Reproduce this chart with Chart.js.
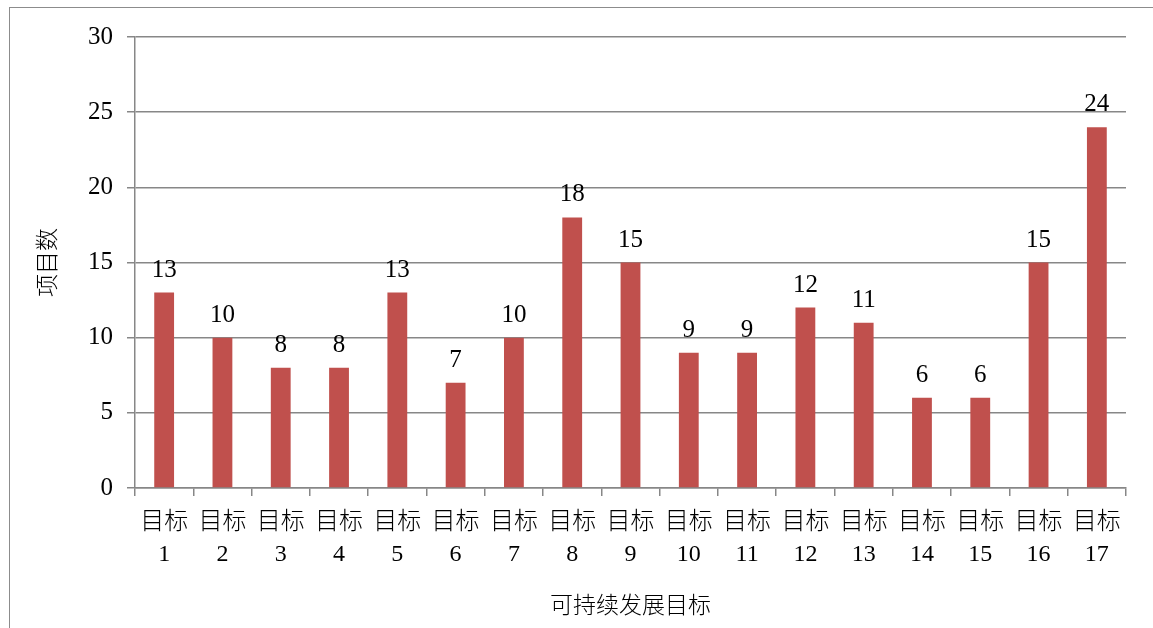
<!DOCTYPE html>
<html>
<head>
<meta charset="utf-8">
<script src="https://cdn.jsdelivr.net/npm/chart.js@4"></script>
<style>
  html, body { margin: 0; padding: 0; background: #fff; }
  .wrapper { position: relative; width: 1153px; height: 628px; overflow: hidden; }
  .frame { position: absolute; left: 9px; top: 7px; width: 1200px; height: 700px; border: 1px solid #8c8c8c; }
  canvas { position: absolute; left: 0; top: 0; }
</style>
</head>
<body>
<div class="wrapper">
  <div class="frame"></div>
  <canvas id="goalChart" width="1153" height="628"></canvas>
</div>
<script>
// Data
var goals = ["1", "2", "3", "4", "5", "6", "7", "8", "9", "10", "11", "12", "13", "14", "15", "16", "17"];
var projects = [13, 10, 8, 8, 13, 7, 10, 18, 15, 9, 9, 12, 11, 6, 6, 15, 24];
var yTicks = [0, 5, 10, 15, 20, 25, 30];

var fontFamily = "'Liberation Serif', 'Noto Sans CJK SC', serif";

// value labels above bars
var valueLabels = {
  id: "valueLabels",
  afterDatasetsDraw: function (chart) {
    var ctx = chart.ctx;
    var meta = chart.getDatasetMeta(0);
    ctx.save();
    ctx.fillStyle = "#000";
    ctx.font = "25px " + fontFamily;
    ctx.textAlign = "center";
    ctx.textBaseline = "alphabetic";
    meta.data.forEach(function (bar, i) {
      ctx.fillText(String(projects[i]), bar.x, bar.y - 16);
    });
    ctx.restore();
  },
};

var ctx = document.getElementById("goalChart").getContext("2d");
var chart = new Chart(ctx, {
  type: "bar",
  data: {
    labels: goals.map(function (g) { return ["目标", g]; }),
    datasets: [
      {
        data: projects,
        backgroundColor: "#C0504D",
        borderWidth: 0,
        barPercentage: 0.34,
        categoryPercentage: 1,
      },
    ],
  },
  options: {
    responsive: false,
    animation: false,
    layout: {
      padding: { left: 30, top: 37, right: 27, bottom: 0 },
    },
    plugins: {
      legend: { display: false },
      tooltip: { enabled: false },
    },
    scales: {
      x: {
        grid: {
          display: true,
          drawOnChartArea: false,
          color: "#878787",
          tickLength: 8,
          lineWidth: 1.5,
        },
        border: { display: true, color: "#878787", width: 1.5 },
        ticks: {
          color: "#000",
          font: { family: fontFamily, size: 24, lineHeight: 1.33, weight: 300 },
          padding: 11,
          maxRotation: 0,
          autoSkip: false,
        },
        title: {
          display: true,
          text: "可持续发展目标",
          color: "#000",
          font: { family: "'Noto Sans CJK SC', sans-serif", size: 23, weight: 300 },
          padding: { top: 0, bottom: 10 },
        },
        afterFit: function (axis) {
          axis.height = 140;
        },
      },
      y: {
        min: 0,
        max: 30,
        afterBuildTicks: function (axis) {
          axis.ticks = yTicks.map(function (v) { return { value: v }; });
        },
        grid: {
          color: "#878787",
          tickLength: 8,
          lineWidth: 1.5,
        },
        border: { display: true, color: "#878787", width: 1.5 },
        ticks: {
          color: "#000",
          font: { family: fontFamily, size: 25 },
          padding: 14,
        },
        title: {
          display: true,
          text: "项目数",
          color: "#000",
          font: { family: "'Noto Sans CJK SC', sans-serif", size: 23, weight: 300 },
          padding: { top: 2, bottom: 0 },
        },
        afterFit: function (axis) {
          axis.width = 105;
        },
      },
    },
  },
  plugins: [valueLabels],
});
</script>
</body>
</html>
